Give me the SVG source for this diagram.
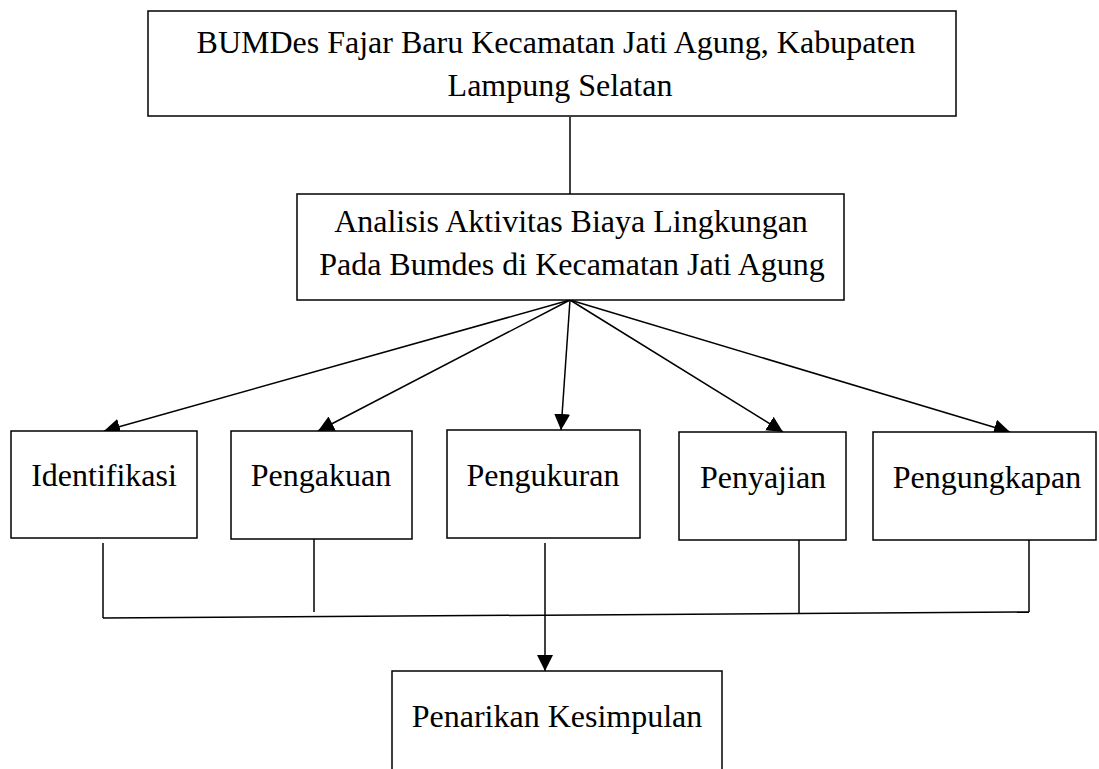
<svg xmlns="http://www.w3.org/2000/svg" width="1099" height="769" viewBox="0 0 1099 769">
  <style>
    .box { fill: #ffffff; stroke: #000000; stroke-width: 1.5; }
    .lbl { font-family: "Liberation Serif", "Times New Roman", serif; font-size: 32px; fill: #000000; text-anchor: middle; }
    .ln { stroke: #000000; stroke-width: 1.5; fill: none; }
  </style>
  <defs>
    <marker id="arrBig" viewBox="0 0 10 10" refX="10" refY="5" markerWidth="16" markerHeight="16" markerUnits="userSpaceOnUse" orient="auto">
      <path d="M0,0 L10,5 L0,10 z" fill="#000000"/>
    </marker>
  </defs>
  <rect width="1099" height="769" fill="#ffffff"/>

  <g id="connectors">
    <line class="ln" x1="570" y1="117" x2="570" y2="194"/>
    <line class="ln" x1="570" y1="300" x2="104" y2="431" marker-end="url(#arrBig)"/>
    <line class="ln" x1="570" y1="300" x2="318" y2="431" marker-end="url(#arrBig)"/>
    <line class="ln" x1="570" y1="300" x2="561" y2="430" marker-end="url(#arrBig)"/>
    <line class="ln" x1="570" y1="300" x2="783" y2="432" marker-end="url(#arrBig)"/>
    <line class="ln" x1="570" y1="300" x2="1010" y2="432" marker-end="url(#arrBig)"/>
    <line class="ln" x1="103" y1="543" x2="103" y2="618"/>
    <line class="ln" x1="314" y1="539" x2="314" y2="612"/>
    <line class="ln" x1="799" y1="540" x2="799" y2="613"/>
    <line class="ln" x1="1029" y1="540" x2="1029" y2="612"/>
    <line class="ln" x1="103" y1="618" x2="1029" y2="612"/>
    <line class="ln" x1="545" y1="543" x2="545" y2="671" marker-end="url(#arrBig)"/>
  </g>

  <g id="node-bumdes">
    <rect class="box" x="148" y="11" width="808" height="105"/>
    <text class="lbl" x="556" y="53">BUMDes Fajar Baru Kecamatan Jati Agung, Kabupaten</text>
    <text class="lbl" x="560" y="96">Lampung Selatan</text>
  </g>

  <g id="node-analisis">
    <rect class="box" x="297" y="194" width="547" height="106"/>
    <text class="lbl" x="571" y="232">Analisis Aktivitas Biaya Lingkungan</text>
    <text class="lbl" x="572" y="275">Pada Bumdes di Kecamatan Jati Agung</text>
  </g>

  <g id="node-identifikasi">
    <rect class="box" x="11" y="431" width="186" height="107"/>
    <text class="lbl" x="104" y="486">Identifikasi</text>
  </g>

  <g id="node-pengakuan">
    <rect class="box" x="231" y="431" width="181" height="108"/>
    <text class="lbl" x="321" y="486">Pengakuan</text>
  </g>

  <g id="node-pengukuran">
    <rect class="box" x="447" y="430" width="193" height="108"/>
    <text class="lbl" x="543" y="486">Pengukuran</text>
  </g>

  <g id="node-penyajian">
    <rect class="box" x="679" y="432" width="167" height="108"/>
    <text class="lbl" x="763" y="488">Penyajian</text>
  </g>

  <g id="node-pengungkapan">
    <rect class="box" x="873" y="432" width="223" height="108"/>
    <text class="lbl" x="987" y="488">Pengungkapan</text>
  </g>

  <g id="node-penarikan">
    <rect class="box" x="392" y="671" width="330" height="110"/>
    <text class="lbl" x="557" y="727">Penarikan Kesimpulan</text>
  </g>
</svg>
